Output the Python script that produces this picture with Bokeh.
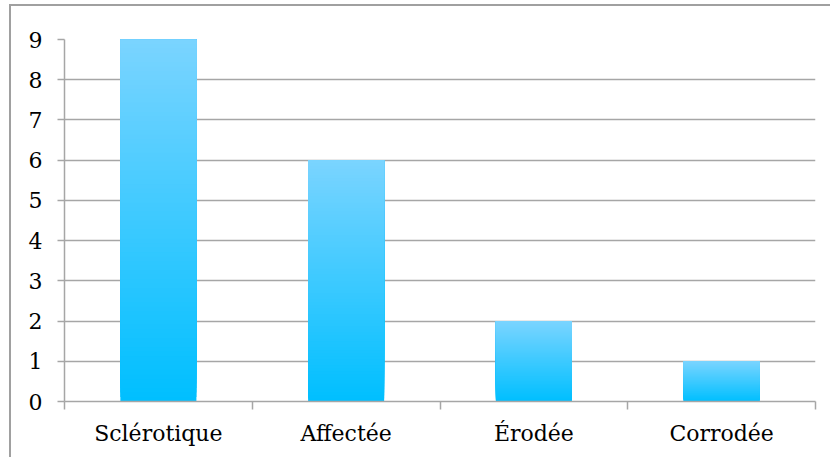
from bokeh.plotting import figure
from bokeh.models import Range1d, FixedTicker, ColumnDataSource
from bokeh.embed import file_html
from bokeh.resources import INLINE

# ---- data ----
categories = ["Sclérotique", "Affectée", "Érodée", "Corrodée"]
values = [9, 6, 2, 1]
y_ticks = [0, 1, 2, 3, 4, 5, 6, 7, 8, 9]

# ---- style ----
FONT = "DejaVu Serif"
FONT_SIZE = "22px"
GRID = "#a6a6a6"
TOP_RGB = (122, 212, 255)
BOT_RGB = (0, 191, 255)
N_SLICES = 80
BAR_W = 0.405

p = figure(width=830, height=457, output_backend="svg", toolbar_location=None,
           x_range=Range1d(0, len(categories)), y_range=Range1d(0, 9),
           min_border_left=64, min_border_right=15, min_border_top=39,
           min_border_bottom=56)
p.styles = {
    "background": ("linear-gradient(#a0a0a0,#a0a0a0) 9px 4px / 2px 100% no-repeat, "
                   "linear-gradient(#a0a0a0,#a0a0a0) 9px 4px / 100% 2px no-repeat, white"),
}
p.outline_line_color = None
p.background_fill_color = "white"
p.border_fill_alpha = 0

# gradient bars: each slice runs from its bottom to the bar top, drawn upward
xs, bots, tops, cols = [], [], [], []
for i, v in enumerate(values):
    for k in range(N_SLICES):
        t = k / (N_SLICES - 1)
        r = round(BOT_RGB[0] + (TOP_RGB[0] - BOT_RGB[0]) * t)
        g = round(BOT_RGB[1] + (TOP_RGB[1] - BOT_RGB[1]) * t)
        b = round(BOT_RGB[2] + (TOP_RGB[2] - BOT_RGB[2]) * t)
        xs.append(i + 0.5)
        bots.append(v * k / N_SLICES)
        tops.append(v)
        cols.append("#%02x%02x%02x" % (r, g, b))
src = ColumnDataSource(dict(x=xs, bottom=bots, top=tops, color=cols))
p.vbar(x="x", bottom="bottom", top="top", width=BAR_W, source=src,
       fill_color="color", line_color=None)

p.xgrid.visible = False
p.ygrid.ticker = FixedTicker(ticks=y_ticks[1:])
p.ygrid.grid_line_color = GRID
p.ygrid.grid_line_width = 1.5

p.yaxis.ticker = FixedTicker(ticks=y_ticks)
p.yaxis.axis_line_color = GRID
p.yaxis.axis_line_width = 1.5
p.yaxis.major_tick_line_color = GRID
p.yaxis.major_tick_line_width = 1.5
p.yaxis.major_tick_out = 7
p.yaxis.major_tick_in = 0
p.yaxis.minor_tick_line_color = None
p.yaxis.major_label_standoff = 15
p.yaxis.major_label_text_font = FONT
p.yaxis.major_label_text_font_size = FONT_SIZE
p.yaxis.major_label_text_color = "black"

centers = [i + 0.5 for i in range(len(categories))]
bounds = list(range(len(categories) + 1))
p.xaxis.ticker = FixedTicker(ticks=centers, minor_ticks=bounds)
p.xaxis.major_label_overrides = {c: lab for c, lab in zip(centers, categories)}
p.xaxis.axis_line_color = GRID
p.xaxis.axis_line_width = 1.5
p.xaxis.major_tick_line_color = None
p.xaxis.major_tick_out = 0
p.xaxis.major_tick_in = 0
p.xaxis.minor_tick_line_color = GRID
p.xaxis.minor_tick_line_width = 1.5
p.xaxis.minor_tick_out = 8
p.xaxis.minor_tick_in = 0
p.xaxis.major_label_standoff = 11
p.xaxis.major_label_text_font = FONT
p.xaxis.major_label_text_font_size = FONT_SIZE
p.xaxis.major_label_text_color = "black"

open("out.html", "w").write(file_html(p, INLINE))
